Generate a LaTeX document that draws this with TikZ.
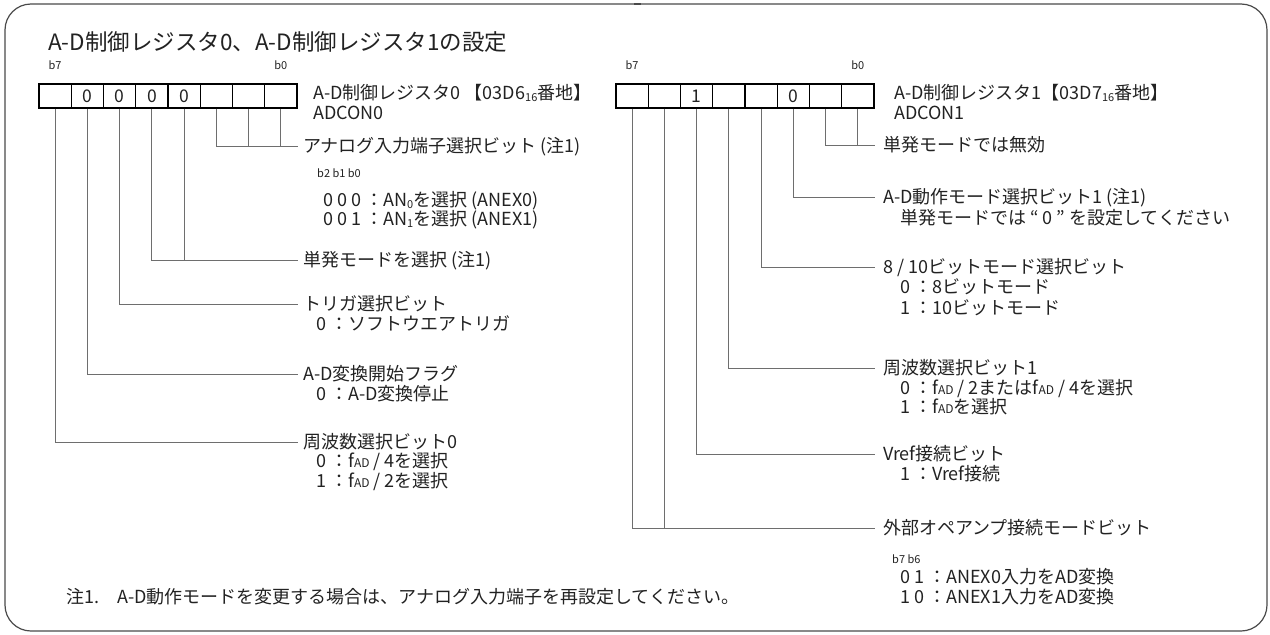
\documentclass[tikz,border=0pt]{standalone}
\usepackage{fontspec}
\setmainfont{Noto Sans CJK JP}
\definecolor{txt}{HTML}{222222}
\definecolor{leadc}{HTML}{6E6E6E}
\definecolor{framec}{HTML}{4A4A4A}
\newcommand\sbs[1]{\raisebox{-1.2pt}{\fontsize{11}{11}\selectfont #1}}
\newcommand\smc[1]{{\fontsize{12}{12}\selectfont #1}}
\tikzset{
  frame/.style={draw=framec, line width=1.2pt, rounded corners=26pt},
  cell/.style={draw=black, line width=1.4pt, minimum width=32.25pt, minimum height=24pt,
    inner sep=0pt, text=txt, font=\fontsize{17.5}{17.5}\selectfont},
  body/.style={anchor=west, inner sep=0pt, text=txt, text height=13.7pt, text depth=0pt,
    font=\fontsize{18}{20}\selectfont},
  lab/.style={body, inner xsep=5pt},
  rlab/.style={body, inner xsep=8pt},
  small/.style={inner sep=0pt, text=txt, text height=8pt, text depth=0pt,
    font=\fontsize{11}{11}\selectfont},
  titlef/.style={anchor=west, inner sep=0pt, text=txt, text height=17pt, text depth=0pt,
    font=\fontsize{22.5}{24}\selectfont},
  leader/.style={draw=leadc, line width=0.9pt},
}
\begin{document}
\begin{tikzpicture}[x=1pt,y=-1pt]
\useasboundingbox (0,0) rectangle (1270,635);
\draw[frame] (5,4) rectangle (1267,631);
\fill[framec] (634,2.6) rectangle (641,5.4);

\node[titlef] (title) at (48,42) {A-D制御レジスタ0、A-D制御レジスタ1の設定};

% ---------- register 0 ----------
\foreach \b/\t in {7/,6/0,5/0,4/0,3/0,2/,1/,0/}
  \node[cell] (L\b) at ({39+32.25*(7-\b+0.5)},96) {\t};
\node[small] (l0b7) at (L7 |- 0,65) {b7};
\node[small] (l0b0) at (L0 |- 0,65) {b0};
\node[body] (reg0) at (313,93) {A-D制御レジスタ0 【03D6\sbs{16}番地】};
\node[body] (adcon0) at (313,113) {ADCON0};

\node[lab] (tA) at (298,146) {アナログ入力端子選択ビット (注1)};
\node[small, anchor=west] (tAh) at (317,173) {b2 b1 b0};
\node[body] (tA1) at (323,200) {0 0 0 ：AN\sbs{0}を選択 (ANEX0)};
\node[body] (tA2) at (323,219) {0 0 1 ：AN\sbs{1}を選択 (ANEX1)};
\node[lab] (tB) at (298,260) {単発モードを選択 (注1)};
\node[lab] (tC) at (298,304) {トリガ選択ビット};
\node[body] (tC1) at (316,324) {0 ：ソフトウエアトリガ};
\node[lab] (tD) at (298,374) {A-D変換開始フラグ};
\node[body] (tD1) at (316,394) {0 ：A-D変換停止};
\node[lab] (tE) at (298,442) {周波数選択ビット0};
\node[body] (tE1) at (316,461) {0 ：f\smc{AD} / 4を選択};
\node[body] (tE2) at (316,481) {1 ：f\smc{AD} / 2を選択};

\draw[leader] (L2.south) |- (tA.west);
\draw[leader] (L1.south) -- (L1.south |- tA.west);
\draw[leader] (L0.south) -- (L0.south |- tA.west);
\draw[leader] (L4.south) |- (tB.west);
\draw[leader] (L3.south) -- (L3.south |- tB.west);
\draw[leader] (L5.south) |- (tC.west);
\draw[leader] (L6.south) |- (tD.west);
\draw[leader] (L7.south) |- (tE.west);

% ---------- register 1 ----------
\foreach \b/\t in {7/,6/,5/1,4/,3/,2/0,1/,0/}
  \node[cell] (R\b) at ({616+32.25*(7-\b+0.5)},96) {\t};
\node[small] (l1b7) at (R7 |- 0,65) {b7};
\node[small] (l1b0) at (R0 |- 0,65) {b0};
\node[body] (reg1) at (894,93) {A-D制御レジスタ1【03D7\sbs{16}番地】};
\node[body] (adcon1) at (894,113) {ADCON1};

\node[rlab] (uA) at (875,145) {単発モードでは無効};
\node[rlab] (uB) at (875,197) {A-D動作モード選択ビット1 (注1)};
\node[body] (uB1) at (900,218) {単発モードでは “ 0 ” を設定してください};
\node[rlab] (uC) at (875,267) {8 / 10ビットモード選択ビット};
\node[body] (uC1) at (900,287) {0 ：8ビットモード};
\node[body] (uC2) at (900,308) {1 ：10ビットモード};
\node[rlab] (uD) at (875,368) {周波数選択ビット1};
\node[body] (uD1) at (900,388) {0 ：f\smc{AD} / 2またはf\smc{AD} / 4を選択};
\node[body] (uD2) at (900,407) {1 ：f\smc{AD}を選択};
\node[rlab] (uE) at (875,454) {Vref接続ビット};
\node[body] (uE1) at (900,474) {1 ：Vref接続};
\node[rlab] (uF) at (875,528) {外部オペアンプ接続モードビット};
\node[small, anchor=west] (uFh) at (892,559) {b7 b6};
\node[body] (uF1) at (900,577) {0 1 ：ANEX0入力をAD変換};
\node[body] (uF2) at (900,597) {1 0 ：ANEX1入力をAD変換};

\draw[leader] (R1.south) |- (uA.west);
\draw[leader] (R0.south) -- (R0.south |- uA.west);
\draw[leader] (R2.south) |- (uB.west);
\draw[leader] (R3.south) |- (uC.west);
\draw[leader] (R4.south) |- (uD.west);
\draw[leader] (R5.south) |- (uE.west);
\draw[leader] (R7.south) |- (uF.west);
\draw[leader] (R6.south) -- (R6.south |- uF.west);

% ---------- note ----------
\node[body] (note) at (66,597) {注1.\hspace{1em}A-D動作モードを変更する場合は、アナログ入力端子を再設定してください。};
\end{tikzpicture}
\end{document}
